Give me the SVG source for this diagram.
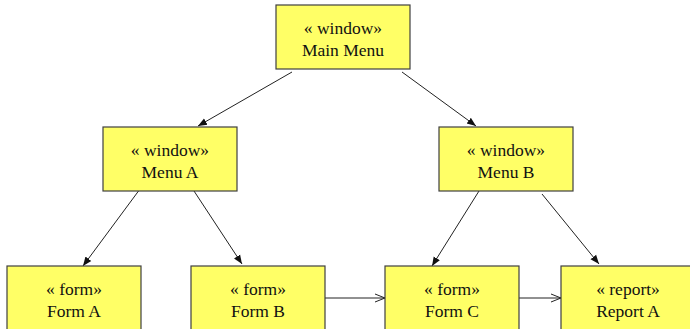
<svg xmlns="http://www.w3.org/2000/svg" width="690" height="329" viewBox="0 0 690 329">
  <style>
    .box { fill: #ffff66; stroke: #404040; stroke-width: 1.2; }
    .lbl { font-family: "Liberation Serif", "Times New Roman", serif; font-size: 17.5px; fill: #111; text-anchor: middle; }
    .edge { stroke: #222; stroke-width: 1; fill: none; }
    .solid { marker-end: url(#filled); }
    .open { marker-end: url(#openhead); }
  </style>
  <defs>
    <marker id="filled" viewBox="0 0 10 10" refX="10" refY="5" markerWidth="9" markerHeight="9" markerUnits="userSpaceOnUse" orient="auto">
      <path d="M0,1 L10,5 L0,9 Z" fill="#111"/>
    </marker>
    <marker id="openhead" viewBox="0 0 10 10" refX="10" refY="5" markerWidth="10" markerHeight="10" markerUnits="userSpaceOnUse" orient="auto">
      <path d="M0,1 L10,5 L0,9" fill="none" stroke="#222" stroke-width="1"/>
    </marker>
  </defs>

  <g id="connectors">
    <line class="edge solid" x1="292" y1="72" x2="198" y2="126"/>
    <line class="edge solid" x1="402" y1="72" x2="476" y2="126"/>
    <line class="edge solid" x1="140" y1="189" x2="83" y2="266"/>
    <line class="edge solid" x1="194" y1="191" x2="242" y2="264"/>
    <line class="edge solid" x1="479" y1="191" x2="432" y2="266"/>
    <line class="edge solid" x1="542" y1="194" x2="599" y2="264"/>
    <line class="edge open" x1="324" y1="298" x2="385" y2="298"/>
    <line class="edge open" x1="519" y1="298" x2="561" y2="298"/>
  </g>

  <g id="main-menu">
    <rect class="box" x="276" y="5" width="134" height="64"/>
    <text class="lbl" x="343" y="34">« window»</text>
    <text class="lbl" x="343" y="56">Main Menu</text>
  </g>
  <g id="menu-a">
    <rect class="box" x="103" y="127" width="134" height="64"/>
    <text class="lbl" x="170" y="156">« window»</text>
    <text class="lbl" x="170" y="178">Menu A</text>
  </g>
  <g id="menu-b">
    <rect class="box" x="439" y="127" width="134" height="64"/>
    <text class="lbl" x="506" y="156">« window»</text>
    <text class="lbl" x="506" y="178">Menu B</text>
  </g>
  <g id="form-a">
    <rect class="box" x="7" y="266" width="134" height="64"/>
    <text class="lbl" x="74" y="295">« form»</text>
    <text class="lbl" x="74" y="317">Form A</text>
  </g>
  <g id="form-b">
    <rect class="box" x="191" y="266" width="134" height="64"/>
    <text class="lbl" x="258" y="295">« form»</text>
    <text class="lbl" x="258" y="317">Form B</text>
  </g>
  <g id="form-c">
    <rect class="box" x="385" y="266" width="134" height="64"/>
    <text class="lbl" x="452" y="295">« form»</text>
    <text class="lbl" x="452" y="317">Form C</text>
  </g>
  <g id="report-a">
    <rect class="box" x="561" y="266" width="134" height="64"/>
    <text class="lbl" x="628" y="295">« report»</text>
    <text class="lbl" x="628" y="317">Report A</text>
  </g>
</svg>
